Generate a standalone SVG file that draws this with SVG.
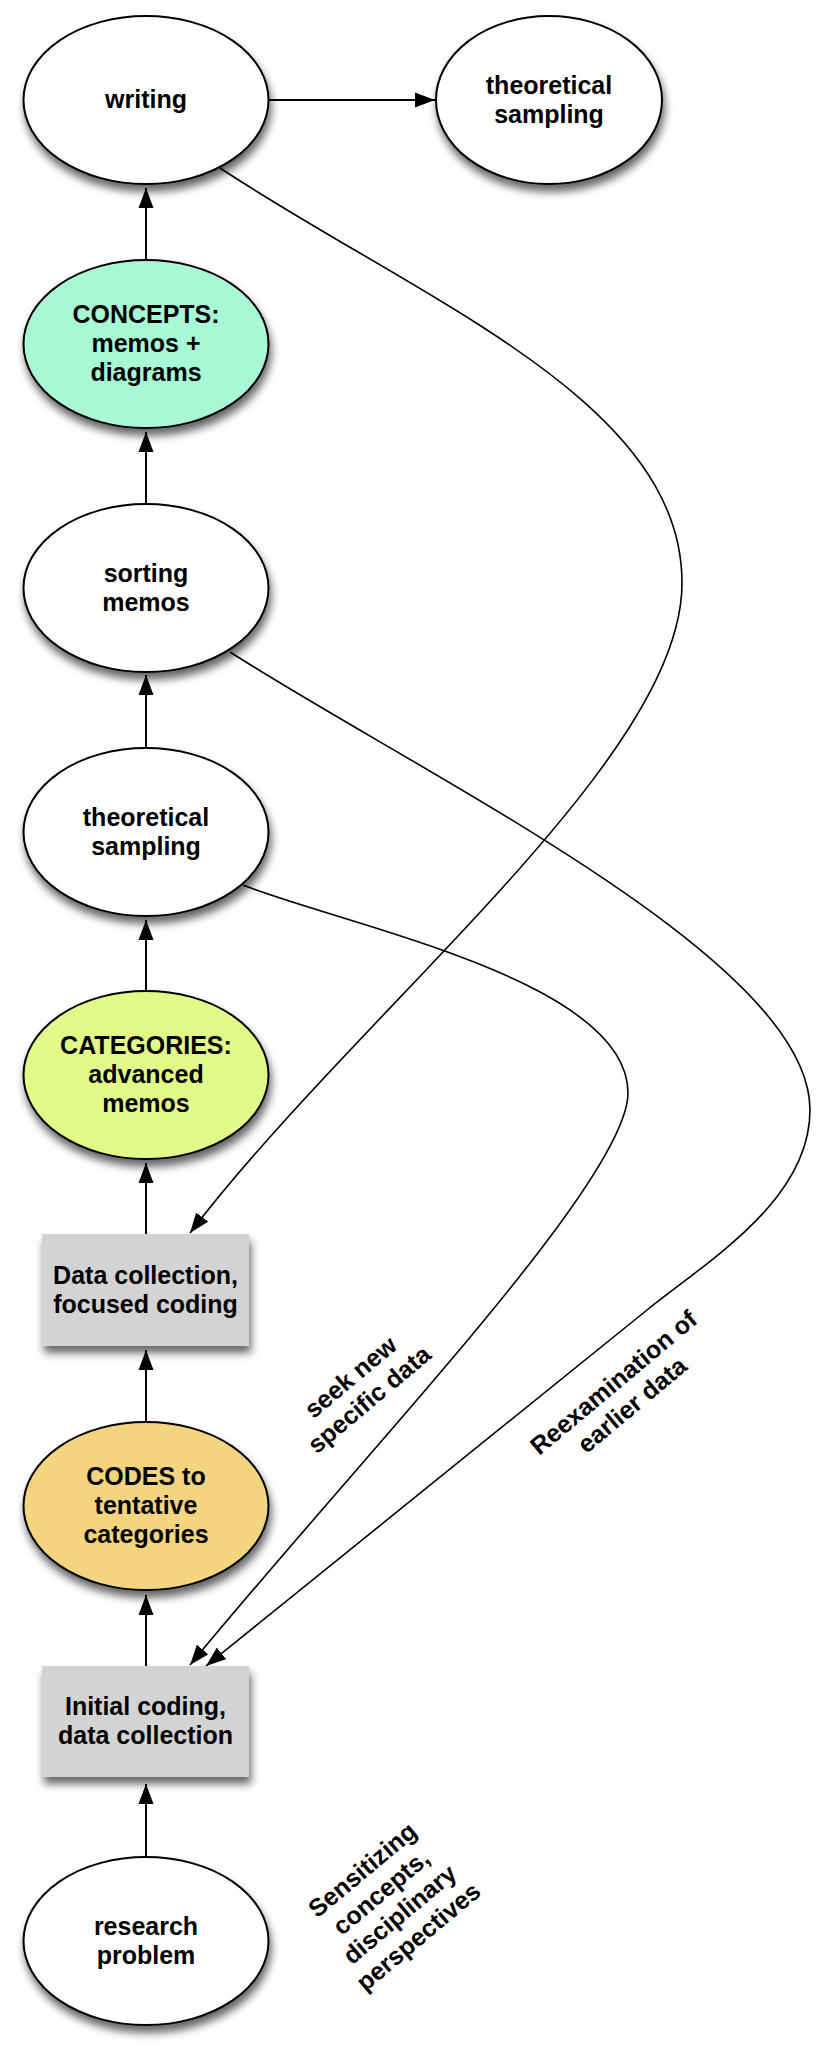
<svg xmlns="http://www.w3.org/2000/svg" width="816" height="2054" viewBox="0 0 816 2054">
<defs>
<style>
.node{stroke:#000;stroke-width:2}
.lbl{font-family:"Liberation Sans",Arial,Helvetica,sans-serif;font-weight:bold;font-size:25px;fill:#000;text-anchor:middle}
.edge{fill:none;stroke:#000;stroke-width:2}
.curve{fill:none;stroke:#000;stroke-width:1.6}
</style>
<filter id="sh" x="-20%" y="-20%" width="140%" height="150%">
<feDropShadow dx="2" dy="7" stdDeviation="4.5" flood-color="#000" flood-opacity="0.6"/>
</filter>
<marker id="ah" markerUnits="userSpaceOnUse" markerWidth="21" markerHeight="16" viewBox="0 0 21 16" refX="20" refY="8" orient="auto">
<path d="M0,0.5 L20,8 L0,15.5 z" fill="#000"/>
</marker>
</defs>
<rect width="816" height="2054" fill="#fff"/>

<g id="connectors">
<line class="edge" x1="269" y1="100" x2="435" y2="100" marker-end="url(#ah)"/>
<line class="edge" x1="146" y1="260" x2="146" y2="188" marker-end="url(#ah)"/>
<line class="edge" x1="146" y1="503" x2="146" y2="432" marker-end="url(#ah)"/>
<line class="edge" x1="146" y1="748" x2="146" y2="675" marker-end="url(#ah)"/>
<line class="edge" x1="146" y1="991" x2="146" y2="920" marker-end="url(#ah)"/>
<line class="edge" x1="146" y1="1234" x2="146" y2="1163" marker-end="url(#ah)"/>
<line class="edge" x1="146" y1="1422" x2="146" y2="1350" marker-end="url(#ah)"/>
<line class="edge" x1="146" y1="1666" x2="146" y2="1595" marker-end="url(#ah)"/>
<line class="edge" x1="146" y1="1856" x2="146" y2="1784" marker-end="url(#ah)"/>
<path class="curve" d="M220,168 C420,300 682,400 682,583 C682,760 360,1010 190,1233" marker-end="url(#ah)"/>
<path class="curve" d="M230,652 C430,780 810,960 810,1110 C810,1200 709,1260 647,1310 L206,1666" marker-end="url(#ah)"/>
<path class="curve" d="M243,885 C343,925 628,980 628,1093 C628,1180 365,1452 190,1665" marker-end="url(#ah)"/>
</g>

<g id="writing">
<ellipse class="node" cx="146" cy="100" rx="122.5" ry="84" fill="#fff" filter="url(#sh)"/>
<text class="lbl" x="146" y="108">writing</text>
</g>
<g id="theoretical-sampling-top">
<ellipse class="node" cx="549" cy="100" rx="113" ry="84" fill="#fff" filter="url(#sh)"/>
<text class="lbl" x="549" y="93.5">theoretical</text>
<text class="lbl" x="549" y="122.5">sampling</text>
</g>
<g id="concepts">
<ellipse class="node" cx="146" cy="344" rx="122.5" ry="84" fill="#a8f8d6" filter="url(#sh)"/>
<text class="lbl" x="146" y="323">CONCEPTS:</text>
<text class="lbl" x="146" y="352">memos +</text>
<text class="lbl" x="146" y="381">diagrams</text>
</g>
<g id="sorting-memos">
<ellipse class="node" cx="146" cy="588" rx="122.5" ry="84" fill="#fff" filter="url(#sh)"/>
<text class="lbl" x="146" y="581.5">sorting</text>
<text class="lbl" x="146" y="610.5">memos</text>
</g>
<g id="theoretical-sampling">
<ellipse class="node" cx="146" cy="832" rx="122.5" ry="84" fill="#fff" filter="url(#sh)"/>
<text class="lbl" x="146" y="825.5">theoretical</text>
<text class="lbl" x="146" y="854.5">sampling</text>
</g>
<g id="categories">
<ellipse class="node" cx="146" cy="1075" rx="122.5" ry="84" fill="#e2fa88" filter="url(#sh)"/>
<text class="lbl" x="146" y="1054">CATEGORIES:</text>
<text class="lbl" x="146" y="1083">advanced</text>
<text class="lbl" x="146" y="1112">memos</text>
</g>
<g id="data-collection">
<rect x="42" y="1234" width="207" height="112" fill="#d3d3d3" filter="url(#sh)"/>
<text class="lbl" x="145.5" y="1283.5">Data collection,</text>
<text class="lbl" x="145.5" y="1312.5">focused coding</text>
</g>
<g id="codes">
<ellipse class="node" cx="146" cy="1506" rx="122.5" ry="84" fill="#f3d47f" filter="url(#sh)"/>
<text class="lbl" x="146" y="1485">CODES to</text>
<text class="lbl" x="146" y="1514">tentative</text>
<text class="lbl" x="146" y="1543">categories</text>
</g>
<g id="initial-coding">
<rect x="42" y="1666" width="207" height="111" fill="#d3d3d3" filter="url(#sh)"/>
<text class="lbl" x="145.5" y="1715">Initial coding,</text>
<text class="lbl" x="145.5" y="1744">data collection</text>
</g>
<g id="research-problem">
<ellipse class="node" cx="146" cy="1941" rx="122.5" ry="84" fill="#fff" filter="url(#sh)"/>
<text class="lbl" x="146" y="1934.5">research</text>
<text class="lbl" x="146" y="1963.5">problem</text>
</g>

<g id="labels">
<g transform="translate(360.5,1389) rotate(-40)">
<text class="lbl" x="0" y="-7">seek new</text>
<text class="lbl" x="0" y="22">specific data</text>
</g>
<g transform="translate(623.5,1394.5) rotate(-40)">
<text class="lbl" x="0" y="-7">Reexamination of</text>
<text class="lbl" x="0" y="22">earlier data</text>
</g>
<g transform="translate(391,1904) rotate(-40)">
<text class="lbl" x="0" y="-36">Sensitizing</text>
<text class="lbl" x="0" y="-7">concepts,</text>
<text class="lbl" x="0" y="22">disciplinary</text>
<text class="lbl" x="0" y="51">perspectives</text>
</g>
</g>
</svg>
